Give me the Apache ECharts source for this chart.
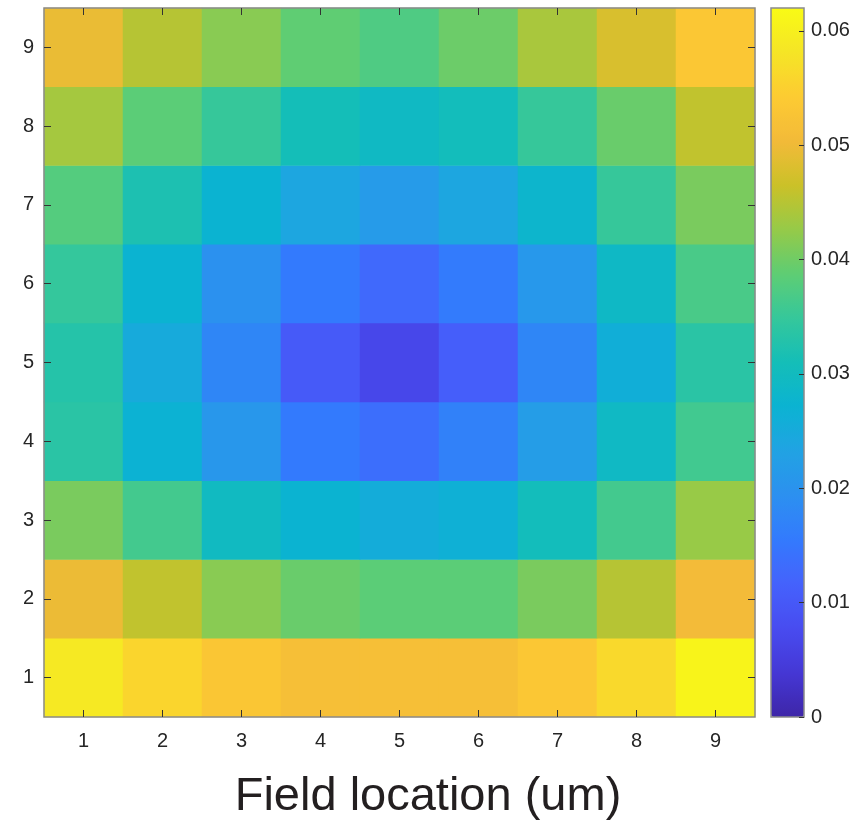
<!DOCTYPE html>
<html>
<head>
<meta charset="utf-8">
<script src="https://cdn.jsdelivr.net/npm/echarts@6/dist/echarts.min.js"></script>
<style>
  html, body { margin: 0; padding: 0; background: #fff; }
  #chart { width: 864px; height: 830px; }
</style>
</head>
<body>
<div id="chart"></div>
<script>
// field positions (um)
var xCats = ['1', '2', '3', '4', '5', '6', '7', '8', '9'];
var yCats = ['1', '2', '3', '4', '5', '6', '7', '8', '9'];

// values per row, y = 1 (bottom) .. y = 9 (top)
var row1 = [0.0588, 0.0558, 0.0530, 0.0515, 0.0515, 0.0515, 0.0534, 0.0563, 0.0608];
var row2 = [0.0497, 0.0458, 0.0417, 0.0395, 0.0385, 0.0385, 0.0407, 0.0450, 0.0505];
var row3 = [0.0407, 0.0362, 0.0297, 0.0272, 0.0255, 0.0265, 0.0306, 0.0362, 0.0428];
var row4 = [0.0336, 0.0270, 0.0208, 0.0155, 0.0135, 0.0167, 0.0220, 0.0292, 0.0360];
var row5 = [0.0330, 0.0250, 0.0176, 0.0103, 0.0069, 0.0110, 0.0176, 0.0260, 0.0336];
var row6 = [0.0348, 0.0272, 0.0196, 0.0155, 0.0127, 0.0157, 0.0210, 0.0290, 0.0368];
var row7 = [0.0378, 0.0320, 0.0272, 0.0240, 0.0216, 0.0240, 0.0280, 0.0350, 0.0407];
var row8 = [0.0437, 0.0385, 0.0350, 0.0310, 0.0294, 0.0305, 0.0350, 0.0395, 0.0458];
var row9 = [0.0495, 0.0450, 0.0417, 0.0388, 0.0373, 0.0397, 0.0440, 0.0478, 0.0534];
var rows = [row1, row2, row3, row4, row5, row6, row7, row8, row9];

// colour bar range and ticks
var cMin = 0;
var cMax = 0.062;
var cStep = 0.01;

// parula
var parula = ['#3e26a8', '#4537d5', '#484cf0', '#4562fc', '#337afd', '#2c90f0',
              '#21a3e3', '#0bb3d2', '#14beb8', '#35c79b', '#5ecd74', '#96ca48',
              '#cbc128', '#f3ba39', '#fdcb32', '#f5e526', '#f9fb15'];

var data = [];
rows.forEach(function (r, yi) {
    r.forEach(function (v, xi) {
        data.push([xi, yi, v]);
    });
});

var font = 'Liberation Sans, Arial, Helvetica, sans-serif';
var frame = '#8a8a8a';
var tickCol = '#333';
var txtCol = '#262626';

var myChart = echarts.init(document.getElementById('chart'));
myChart.setOption({
    backgroundColor: '#fff',
    animation: false,
    grid: [
        {left: 44, top: 8, width: 711, height: 709, show: true, z: 10,
         borderColor: frame, borderWidth: 1.5, backgroundColor: 'transparent'},
        {left: 771, top: 8, width: 33, height: 709, show: true, z: 10,
         borderColor: frame, borderWidth: 1.5, backgroundColor: 'transparent'}
    ],
    xAxis: [
        {type: 'category', data: xCats, gridIndex: 0, position: 'bottom', z: 10,
         axisLine: {show: false},
         axisTick: {show: true, inside: true, alignWithLabel: true, length: 7, lineStyle: {color: tickCol}},
         axisLabel: {color: txtCol, fontSize: 20, fontFamily: font, margin: 14},
         splitLine: {show: false}},
        {type: 'category', data: xCats, gridIndex: 0, position: 'top', z: 10,
         axisLine: {show: false},
         axisTick: {show: true, inside: true, alignWithLabel: true, length: 7, lineStyle: {color: tickCol}},
         axisLabel: {show: false}, splitLine: {show: false}},
        {type: 'value', gridIndex: 1, show: false, min: 0, max: 1}
    ],
    yAxis: [
        {type: 'category', data: yCats, gridIndex: 0, position: 'left', z: 10,
         axisLine: {show: false},
         axisTick: {show: true, inside: true, alignWithLabel: true, length: 7, lineStyle: {color: tickCol}},
         axisLabel: {color: txtCol, fontSize: 20, fontFamily: font, margin: 10},
         splitLine: {show: false}},
        {type: 'category', data: yCats, gridIndex: 0, position: 'right', z: 10,
         axisLine: {show: false},
         axisTick: {show: true, inside: true, alignWithLabel: true, length: 7, lineStyle: {color: tickCol}},
         axisLabel: {show: false}, splitLine: {show: false}},
        {type: 'value', gridIndex: 1, position: 'right', z: 10,
         min: cMin, max: cMax, interval: cStep,
         axisLine: {show: false, onZero: false},
         axisTick: {show: true, inside: true, length: 5, lineStyle: {color: tickCol}},
         axisLabel: {color: txtCol, fontSize: 20, fontFamily: font, margin: 7,
                     showMaxLabel: false,
                     formatter: function (v) { return v === 0 ? '0' : v.toFixed(2); }},
         splitLine: {show: false}}
    ],
    visualMap: {
        type: 'continuous',
        min: cMin, max: cMax,
        calculable: false,
        orient: 'vertical',
        left: 771, top: 8,
        itemWidth: 33, itemHeight: 709,
        padding: 0,
        z: 1,
        text: null,
        seriesIndex: 0,
        inRange: {color: parula}
    },
    graphic: [{
        type: 'text',
        x: 428, y: 821,
        style: {
            text: 'Field location (um)',
            font: '47px ' + font,
            fill: '#231f20',
            textAlign: 'center',
            textVerticalAlign: 'bottom'
        }
    }],
    series: [{
        type: 'heatmap',
        xAxisIndex: 0, yAxisIndex: 0,
        data: data,
        itemStyle: {borderWidth: 0},
        emphasis: {disabled: true}
    }]
});
</script>
</body>
</html>
